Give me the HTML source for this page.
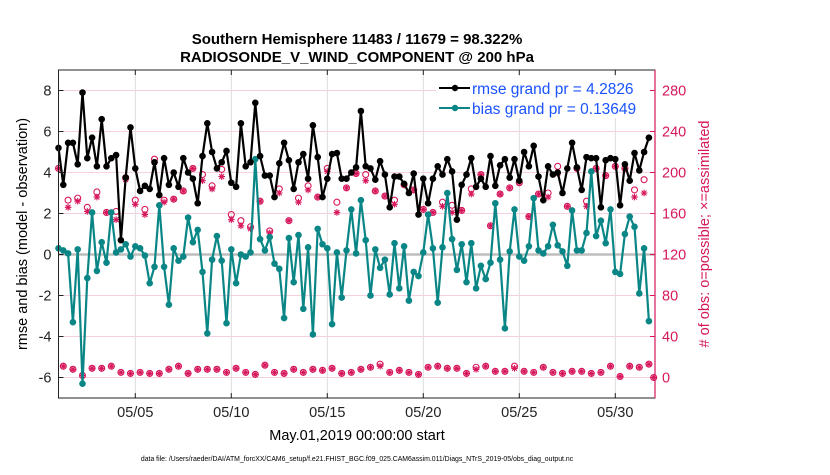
<!DOCTYPE html>
<html><head><meta charset="utf-8"><style>
body{margin:0;background:#fff;width:830px;height:470px;overflow:hidden;font-family:"Liberation Sans",sans-serif}
svg text{font-family:"Liberation Sans",sans-serif}
</style></head><body>
<svg id="chart" width="830" height="470" viewBox="0 0 830 470" xmlns="http://www.w3.org/2000/svg">
<text x="357" y="44" text-anchor="middle" font-size="15" font-weight="bold">Southern Hemisphere 11483 / 11679 = 98.322%</text>
<text x="357" y="62" text-anchor="middle" font-size="15" font-weight="bold">RADIOSONDE_V_WIND_COMPONENT @ 200 hPa</text>
<g id="grid"></g>
<g id="marks"></g>
<g id="axes"></g>
<text transform="translate(27,234) rotate(-90)" text-anchor="middle" font-size="14.5">rmse and bias (model - observation)</text>
<text transform="translate(709,234) rotate(-90)" text-anchor="middle" font-size="14.5" fill="#d6175c">
# of obs: o=possible; ×=assimilated</text>
<text x="357" y="440" text-anchor="middle" font-size="14.5">May.01,2019 00:00:00 start</text>
<text x="357" y="461" text-anchor="middle" font-size="6.9">data file: /Users/raeder/DAI/ATM_forcXX/CAM6_setup/f.e21.FHIST_BGC.f09_025.CAM6assim.011/Diags_NTrS_2019-05/obs_diag_output.nc</text>
<g>
<rect x="436" y="76" width="214" height="42" fill="#fff"/>
<line x1="439" y1="88" x2="470" y2="88" stroke="#000" stroke-width="2"/>
<circle cx="455" cy="88" r="3.2" fill="#000"/>
<text x="472" y="94" font-size="15.5" fill="#1a53ff">rmse grand pr = 4.2826</text>
<line x1="439" y1="108" x2="470" y2="108" stroke="#0b8686" stroke-width="2"/>
<circle cx="455" cy="108" r="3.2" fill="#0b8686"/>
<text x="472" y="114" font-size="15.5" fill="#1a53ff">bias grand pr = 0.13649</text>
</g>
</svg>
<script>
const rmse=[5.2,3.4,5.45,5.45,4.4,7.9,4.7,5.7,4.3,6.6,4.3,4.7,4.85,0.7,3.75,6.2,4.2,3.1,3.35,3.2,4.5,2.9,4.7,3.4,4.0,3.3,4.7,4.0,3.7,2.5,4.8,6.4,5.0,4.2,4.5,5.05,3.5,3.3,6.4,4.3,4.5,7.4,4.8,3.85,3.85,2.8,4.45,5.45,4.6,3.2,4.5,4.9,3.7,6.3,4.75,2.8,3.7,4.9,4.95,3.7,3.7,4.0,4.25,7.0,
4.3,4.2,3.65,4.55,3.9,2.3,3.8,3.8,3.45,3.0,3.95,1.95,3.7,2.5,3.7,4.3,3.9,4.65,4.05,1.7,3.4,3.9,4.7,3.3,3.7,3.3,4.8,3.35,4.35,4.65,3.75,4.65,3.6,5.0,4.3,5.3,3.8,2.65,4.3,3.9,4.0,3.0,4.2,5.45,4.25,3.15,4.75,4.7,4.7,2.3,4.6,4.7,4.65,2.4,4.4,3.6,4.95,4.1,5.0,5.7];
const bias=[0.3,0.2,0.05,-3.3,0.25,-6.3,-1.15,2.05,-0.8,0.6,-0.4,2.05,0.1,0.25,0.5,-0.1,0.4,0.3,-0.05,-1.4,-0.6,2.4,-0.6,-2.45,0.3,-0.3,-0.1,1.8,0.6,1.2,-0.85,-3.85,-0.25,0.9,-0.3,-3.35,0.25,-1.4,0.0,-0.1,0.1,4.65,0.75,0.2,0.85,-0.45,-0.7,-3.1,0.8,-1.35,0.95,-2.65,0.35,-3.9,1.25,0.5,0.3,-3.4,0.1,-2.1,0.2,2.2,0.05,2.65,
0.7,-2.0,0.25,-0.65,-0.25,-1.95,0.55,-1.65,0.4,-2.25,-0.85,-1.05,0.1,1.95,0.3,-2.35,0.35,3.0,0.75,-0.75,0.5,-1.35,0.55,-1.65,-0.55,-1.2,-0.4,2.5,-0.25,-3.6,0.15,2.2,-0.1,-0.3,0.4,2.75,0.2,0.05,0.4,1.45,0.45,0.15,-0.55,2.15,0.2,0.2,1.05,4.05,0.9,1.65,0.55,2.2,-0.85,-0.95,1.0,1.85,1.35,-1.9,0.3,-3.25];
// counts at 00Z/12Z (even slots)
const possibleHigh=[204,173,175,166,181,161,162,195,173,164,213,173,174,182,204,198,187,203,159,153,147,172,143,184,153,175,187,176,204,171,185,199,
198,182,177,173,188,183,164,161,171,168,163,184,198,148,179,185,190,157,179,180,206,167,204,172,204,197,206,204,183,193];
const assimHigh=[204,166,172,162,176,161,154,193,169,159,210,171,174,182,204,192,184,196,154,148,145,172,141,180,153,171,183,176,201,161,185,199,
192,182,177,169,188,183,164,161,167,161,163,179,198,148,179,185,190,157,179,176,199,167,204,167,204,197,206,204,176,180];
// counts at 06Z/18Z (odd slots)
const possibleLow=[11,8,2,9,9,11,5,4,5,4,4,8,11,4,8,8,8,5,9,5,3,12,5,4,8,5,8,7,9,4,5,8,
10,13,5,7,5,3,10,11,9,9,4,10,11,6,6,11,6,5,10,5,4,6,6,4,5,11,1,11,10,13];
const assimLow=[11,8,2,9,9,11,5,4,5,4,4,8,11,4,8,8,8,5,9,5,3,12,5,4,8,5,8,7,9,4,5,8,
10,11,5,7,5,3,10,11,9,9,4,8,11,6,6,9,6,5,10,5,4,6,6,4,5,11,1,11,10,13];
const finalCount=[0];
const leftTicks=[-6,-4,-2,0,2,4,6,8];
const rightTicks=[0,40,80,120,160,200,240,280];
const xTickDays=[4,9,14,19,24,29];
const xTickLabels=["05/05","05/10","05/15","05/20","05/25","05/30"];

const L=58.5,R=655,T=70,B=398;
const NS="http://www.w3.org/2000/svg";
function xS(d){return L+d*19.2;}
function yL(v){return 254.5-v*20.5;}
function yR(c){return yL(c/20-6);}
function mk(tag,attrs,parent){const e=document.createElementNS(NS,tag);for(const k in attrs)e.setAttribute(k,attrs[k]);parent.appendChild(e);return e;}
const grid=document.getElementById('grid'),marks=document.getElementById('marks'),axes=document.getElementById('axes');
const PINK="#d6175c";
rightTicks.forEach(c=>{const l=mk('line',{x1:L,x2:R,y1:yR(c),y2:yR(c),stroke:'#f6cfe0','stroke-width':1},grid);

});
xTickDays.forEach(d=>{const l=mk('line',{x1:xS(d),x2:xS(d),y1:T,y2:B,stroke:'#dcdcdc','stroke-width':1},grid);

});
const z=mk('line',{x1:L,x2:R,y1:yL(0),y2:yL(0),stroke:'#bdbdbd','stroke-width':2.5},grid);


function circ(x,y,par){const c=mk('circle',{cx:x,cy:y,r:3,fill:'none',stroke:PINK,'stroke-width':1.1},par);

}
function star(x,y,par){const g=mk('path',{d:`M${x-3.3} ${y}H${x+3.3}M${x} ${y-3.3}V${y+3.3}M${x-2.4} ${y-2.4}L${x+2.4} ${y+2.4}M${x-2.4} ${y+2.4}L${x+2.4} ${y-2.4}`,stroke:PINK,'stroke-width':1.1,fill:'none'},par);

}
possibleHigh.forEach((c,i)=>circ(xS(i*0.5),yR(c),marks));
assimHigh.forEach((c,i)=>star(xS(i*0.5),yR(c),marks));
possibleLow.forEach((c,i)=>circ(xS(i*0.5+0.25),yR(c),marks));
assimLow.forEach((c,i)=>star(xS(i*0.5+0.25),yR(c),marks));
finalCount.forEach(c=>{circ(xS(31),yR(c),marks);star(xS(31),yR(c),marks);});
function series(vals,color,name){
 const pts=vals.map((v,i)=>xS(i*0.25).toFixed(1)+','+yL(v).toFixed(1)).join(' ');
 const p=mk('polyline',{points:pts,fill:'none',stroke:color,'stroke-width':2.2,'stroke-linejoin':'round'},marks);
 
 
 vals.forEach((v,i)=>{const c=mk('circle',{cx:xS(i*0.25),cy:yL(v),r:3.3,fill:color},marks);
 
 });
}
series(bias,'#0b8686','bias');
series(rmse,'#000','rmse');
const fr=mk('rect',{x:L,y:T,width:R-L,height:B-T,fill:'none',stroke:'#222','stroke-width':1},axes);


const ra=mk('line',{x1:R,x2:R,y1:T,y2:B,stroke:PINK,'stroke-width':1.2},axes);


leftTicks.forEach(v=>{mk('line',{x1:L,x2:L+5,y1:yL(v),y2:yL(v),stroke:'#222'},axes);
 const t=mk('text',{x:L-7,y:yL(v)+5,'text-anchor':'end','font-size':14.5,fill:'#222'},axes);t.textContent=v;
 
 });
rightTicks.forEach(c=>{mk('line',{x1:R-5,x2:R,y1:yR(c),y2:yR(c),stroke:PINK},axes);
 const t=mk('text',{x:R+7,y:yR(c)+5,'font-size':14.5,fill:PINK},axes);t.textContent=c;
 
 });
xTickDays.forEach((d,i)=>{mk('line',{x1:xS(d),x2:xS(d),y1:B,y2:B-5,stroke:'#222'},axes);
 mk('line',{x1:xS(d),x2:xS(d),y1:T,y2:T+5,stroke:'#222'},axes);
 const t=mk('text',{x:xS(d),y:B+19,'text-anchor':'middle','font-size':14.5,fill:'#222'},axes);t.textContent=xTickLabels[i];
 
 });
</script>
</body></html>
